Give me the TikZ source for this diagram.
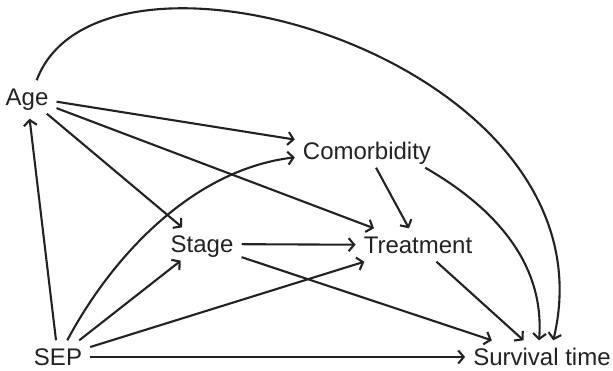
\documentclass[tikz,border=0pt]{standalone}
\usepackage{fontspec}
\setmainfont{Liberation Sans}
\usetikzlibrary{arrows.meta}
\definecolor{ink}{HTML}{222222}
\begin{document}
\begin{tikzpicture}[x=1pt,y=-1pt,
  var/.style={inner xsep=8pt, inner ysep=8pt, text height=17pt, text depth=0pt,
    font=\fontsize{24}{28}\selectfont, text=ink},
  arr/.style={draw=ink, line width=2.1pt, -{Straight Barb[length=5.5pt,width=13pt]}}]
\useasboundingbox (0,0) rectangle (613,370);
\node[var] (age)   at (27,97)   {Age};
\node[var] (comor) at (367,151) {Comorbidity};
\node[var] (stage) at (202,244) {Stage};
\node[var] (treat) at (418,245) {Treatment};
\node[var] (sep)   at (58,357)  {SEP};
\node[var] (surv)  at (542,357) {Survival time};

\draw[arr] (age.60) .. controls (100,-90) and (620,60) .. (surv.56);
\draw[arr] (age) -- (comor);
\draw[arr] (age) -- (treat);
\draw[arr] (age) -- (stage);
\draw[arr, shorten >=5pt] (sep) -- (age);
\draw[arr] (sep.61) .. controls (110,260) and (190,170) .. (comor.185);
\draw[arr] (sep) -- (stage);
\draw[arr] (sep) -- (treat);
\draw[arr] (sep) -- (surv);
\draw[arr] (stage) -- (treat);
\draw[arr] (stage) -- (surv);
\draw[arr] (comor) -- (treat);
\draw[arr] (comor.-16) .. controls (490,205) and (545,260) .. (surv.100);
\draw[arr] (treat) -- (surv);
\end{tikzpicture}
\end{document}
